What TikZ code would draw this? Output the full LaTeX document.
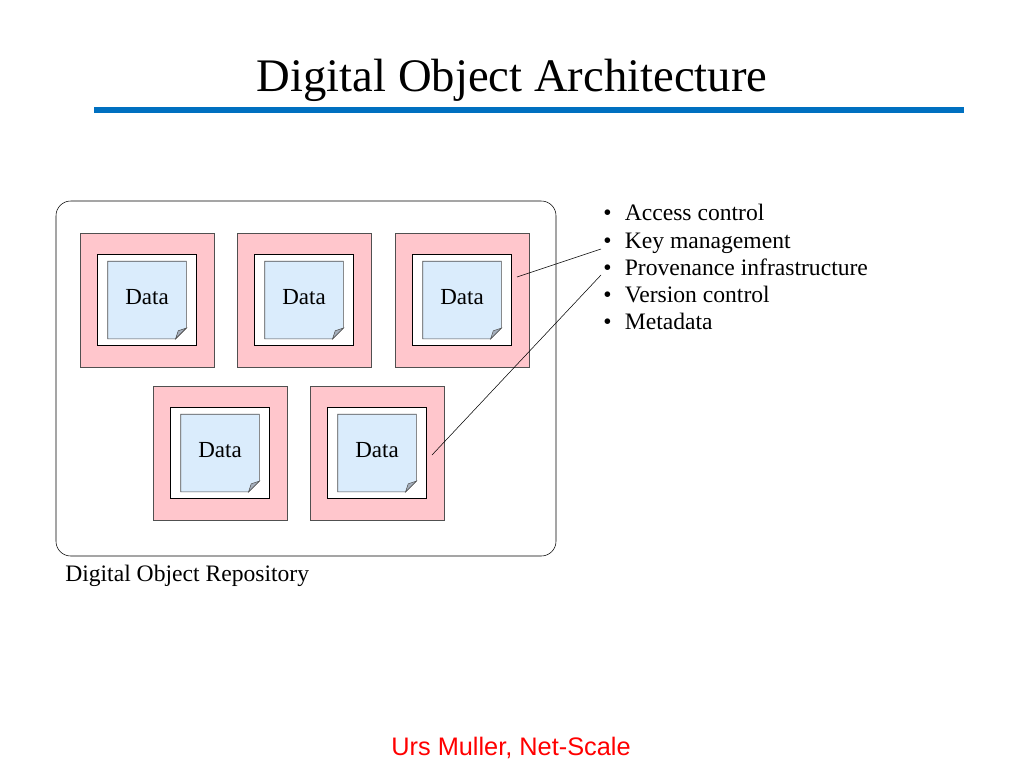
\documentclass[tikz,border=0pt]{standalone}
\usepackage{fontspec}
\setmainfont{Liberation Serif}
\newfontfamily\footfont{Liberation Sans}

\definecolor{titleblue}{RGB}{0,112,192}
\definecolor{objpink}{RGB}{255,198,204}
\definecolor{noteblue}{RGB}{218,236,252}
\definecolor{foldgray}{RGB}{165,175,188}
\definecolor{edgegray}{RGB}{80,80,80}

\tikzset{
  objbox/.style={draw=edgegray, fill=objpink, minimum width=100.5pt, minimum height=100.5pt, inner sep=0pt},
  wrapbox/.style={draw=black, fill=white, minimum width=74.25pt, minimum height=68.25pt, inner sep=0pt},
  notebox/.style={minimum width=58.5pt, minimum height=57.75pt, inner sep=0pt},
  bodytext/.style={font=\fontsize{17.25}{20}\selectfont, inner sep=0pt},
  itemtext/.style={font=\fontsize{17.7}{20}\selectfont, inner sep=0pt, anchor=base west},
}

% one digital object: pink wrapper, white frame, note with folded corner
\newcommand{\dataobj}[3]{%
  \node[objbox] (#1) at (#2,#3) {};
  \node[wrapbox] (#1w) at (#1) {};
  \node[notebox] (#1n) at (#1) {};
  \filldraw[fill=noteblue, draw=edgegray] (#1n.north west) -- (#1n.north east)
    -- ([yshift=8pt]#1n.south east) -- ([xshift=-8pt]#1n.south east)
    -- (#1n.south west) -- cycle;
  \filldraw[fill=foldgray, draw=edgegray] ([yshift=8pt]#1n.south east)
    -- ([xshift=-8pt]#1n.south east) -- ([xshift=-6pt,yshift=6pt]#1n.south east) -- cycle;
  \node[bodytext] (#1t) at ([yshift=2pt]#1n.center) {Data};
}

\begin{document}
\begin{tikzpicture}[x=0.75pt,y=-0.75pt]
\useasboundingbox (0,0) rectangle (1024,768);

% title
\node[font=\fontsize{35}{40}\selectfont, anchor=base, inner sep=0pt] (title) at (512,91) {Digital Object Architecture};
\draw[titleblue, line width=4.5pt] (94,110) -- (964,110);

% repository
\node[draw, rounded corners=11pt, minimum width=375pt, minimum height=266.25pt, inner sep=0pt] (repo) at (306,378.5) {};
\node[itemtext] (repolabel) at (65,581) {Digital Object Repository};

\dataobj{obja}{147}{300}
\dataobj{objb}{304}{300}
\dataobj{objc}{462}{300}
\dataobj{objd}{220}{453}
\dataobj{obje}{377}{453}

% services
\node[itemtext] (item1) at (603,220) {\textbullet\hspace{10pt}Access control};
\node[itemtext] (item2) at (603,248) {\textbullet\hspace{10pt}Key management};
\node[itemtext] (item3) at (603,275) {\textbullet\hspace{10pt}Provenance infrastructure};
\node[itemtext] (item4) at (603,302) {\textbullet\hspace{10pt}Version control};
\node[itemtext] (item5) at (603,329) {\textbullet\hspace{10pt}Metadata};

\coordinate (chook) at (517,277);
\coordinate (ehook) at (432,455);
\coordinate (keyend) at (601,249);
\coordinate (provend) at (601,275);
\draw (chook) -- (keyend);
\draw (ehook) -- (provend);

% footer
\node[font=\footfont\fontsize{19}{22}\selectfont, text=red, anchor=base, inner sep=0pt] (credit) at (511,755) {Urs Muller, Net-Scale};
\end{tikzpicture}
\end{document}
